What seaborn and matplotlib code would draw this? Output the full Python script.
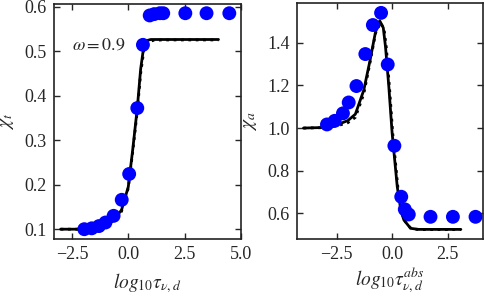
import numpy as np
import pandas as pd
import seaborn as sns
import matplotlib
matplotlib.use("Agg")
import matplotlib.pyplot as plt

# ---------------------------------------------------------------
# data
# ---------------------------------------------------------------
# left panel: chi_t vs log10 tau_{nu,d}
t_pts_x = [-1.95, -1.62, -1.30, -1.01, -0.65, -0.29, 0.04, 0.40, 0.65,
           0.95, 1.15, 1.40, 1.55, 2.53, 3.47, 4.48]
t_pts_y = [0.100, 0.102, 0.107, 0.115, 0.130, 0.166, 0.224, 0.372, 0.514,
           0.580, 0.583, 0.585, 0.585, 0.585, 0.585, 0.585]

t_curve_x = [-3.0, -2.0, -1.5, -1.0, -0.6, -0.3, 0.0, 0.2, 0.4, 0.55, 0.7, 0.85, 1.0, 1.5, 4.0]
t_curve_y = [0.100, 0.100, 0.102, 0.110, 0.124, 0.143, 0.195, 0.280, 0.372, 0.460, 0.515, 0.524, 0.526, 0.526, 0.526]
t_dot_x = [-3.0, -2.0, -1.5, -1.0, -0.6, -0.3, 0.0, 0.2, 0.4, 0.55, 0.7, 0.9, 1.1, 1.5, 4.0]
t_dot_y = [0.100, 0.100, 0.101, 0.108, 0.121, 0.140, 0.192, 0.275, 0.365, 0.450, 0.505, 0.520, 0.524, 0.525, 0.525]

# right panel: chi_a vs log10 tau^abs_{nu,d}
a_pts_x = [-2.94, -2.59, -2.22, -1.96, -1.61, -1.21, -0.87, -0.50, -0.20,
           0.10, 0.41, 0.57, 0.75, 1.73, 2.74, 3.76]
a_pts_y = [1.017, 1.034, 1.069, 1.120, 1.197, 1.347, 1.483, 1.540, 1.298,
           0.917, 0.678, 0.619, 0.595, 0.584, 0.584, 0.584]

a_curve_x = [-4.0, -3.0, -2.5, -2.0, -1.66, -1.28, -1.01, -0.75, -0.56, -0.40, -0.30, -0.15,
             0.0, 0.23, 0.40, 0.53, 0.83, 1.2, 3.1]
a_curve_y = [1.000, 1.003, 1.015, 1.035, 1.065, 1.178, 1.311, 1.451, 1.503, 1.47, 1.381, 1.194,
             0.975, 0.725, 0.610, 0.569, 0.530, 0.525, 0.525]
a_dot_x = [-4.0, -3.0, -2.5, -2.0, -1.66, -1.28, -1.01, -0.75, -0.52, -0.36, -0.26, -0.12,
           0.03, 0.26, 0.43, 0.56, 0.86, 1.2, 3.1]
a_dot_y = [1.000, 1.002, 1.010, 1.025, 1.050, 1.160, 1.300, 1.445, 1.495, 1.46, 1.375, 1.190,
           0.970, 0.720, 0.605, 0.566, 0.528, 0.524, 0.524]

sns.set_style("ticks")
plt.rcParams['font.family'] = ['Liberation Serif', 'DejaVu Serif']
plt.rcParams['mathtext.fontset'] = 'stix'
plt.rcParams['font.size'] = 13

fig = plt.figure(figsize=(4.85, 2.98), dpi=100)
ax1 = fig.add_axes([0.111, 0.198, 0.386, 0.789])
ax2 = fig.add_axes([0.612, 0.198, 0.384, 0.791])

panels = [
    (ax1, t_pts_x, t_pts_y, t_curve_x, t_curve_y, t_dot_x, t_dot_y),
    (ax2, a_pts_x, a_pts_y, a_curve_x, a_curve_y, a_dot_x, a_dot_y),
]
for ax, px, py, cx, cy, dx, dy in panels:
    sns.lineplot(x=dx, y=dy, ax=ax, color='black', lw=2, ls=':', sort=False)
    sns.lineplot(x=cx, y=cy, ax=ax, color='black', lw=2, sort=False)
    sns.scatterplot(x=px, y=py, ax=ax, color='#0000ff', s=100, edgecolor='none',
                    zorder=3, clip_on=False)
    ax.tick_params(direction='in', top=True, right=True, length=4, width=1,
                   labelsize=13, pad=5)
    for sp in ax.spines.values():
        sp.set_visible(True)
        sp.set_linewidth(1.2)
        sp.set_color('#222222')

ax1.set_xlim(-3.3, 4.85)
ax1.set_ylim(0.078, 0.606)
ax1.set_xticks([-2.5, 0.0, 2.5, 5.0])
ax1.set_yticks([0.1, 0.2, 0.3, 0.4, 0.5, 0.6])
ax1.set_xlabel(r'$log_{10}\tau_{\nu,d}$', fontsize=14, labelpad=6)
ax1.set_ylabel(r'$\chi_t$', fontsize=14, labelpad=6)
ax1.text(-2.5, 0.514, r'$\omega=0.9$', fontsize=13, va='center', ha='left')

ax2.set_xlim(-4.3, 4.1)
ax2.set_ylim(0.48, 1.585)
ax2.set_xticks([-2.5, 0.0, 2.5])
ax2.set_yticks([0.6, 0.8, 1.0, 1.2, 1.4])
ax2.set_xlabel(r'$log_{10}\tau_{\nu,d}^{abs}$', fontsize=14, labelpad=2)
ax2.set_ylabel(r'$\chi_a$', fontsize=14, labelpad=6)

fig.savefig('out.png', dpi=100)
